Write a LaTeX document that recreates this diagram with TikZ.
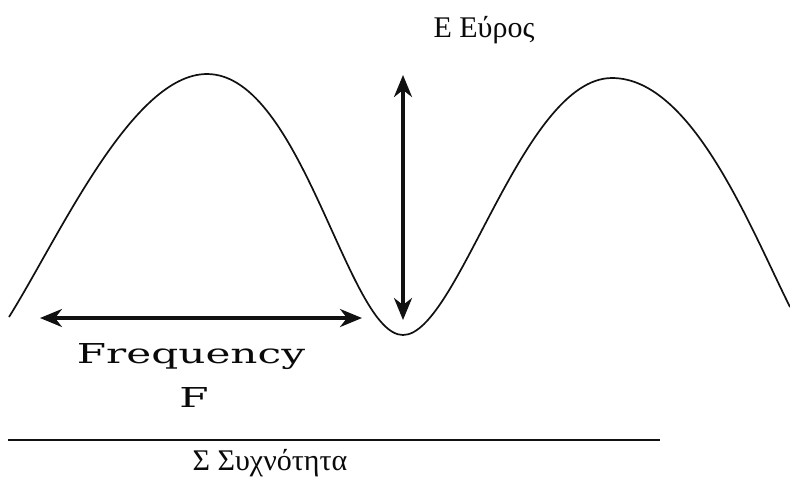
\documentclass[tikz,border=0pt]{standalone}
\usepackage{fontspec}
\setmainfont{Liberation Serif}
\newfontfamily\widefont{DejaVu Serif}
\usepackage{graphicx}
\usepackage{tikz}
\usetikzlibrary{arrows.meta}
\definecolor{WaveInk}{HTML}{111111}
\definecolor{WaveText}{HTML}{0A0A0A}

\begin{document}
\begin{tikzpicture}[x=0.5pt,y=-0.5pt,>={Stealth[length=11pt,width=9pt,inset=3.5pt]},
  greeklabel/.style={WaveText,anchor=base,inner sep=0pt,font=\fontsize{15pt}{18pt}\selectfont},
  freqlabel/.style={WaveText,anchor=base,inner sep=0pt,font=\widefont\fontsize{13.7pt}{16pt}\selectfont},
  dimarrow/.style={WaveInk,<->,line width=1.6pt}]
  \useasboundingbox (0,0) rectangle (790,479);
  % the wave
  \draw[WaveInk,line width=0.85pt]
    (9,317) .. controls (59,237) and (132,74) .. (207,74)
            .. controls (302,74) and (348,335) .. (403,335)
            .. controls (458,335) and (522,78) .. (612,78)
            .. controls (692,78) and (750,227) .. (790,307);
  % amplitude
  \coordinate (amptop) at (403,75);
  \coordinate (ampbot) at (403,320);
  \draw[dimarrow] (amptop) -- (ampbot);
  \node[greeklabel] (amp) at (484,37) {Ε Εύρος};
  % one period
  \coordinate (perl) at (40,318);
  \coordinate (perr) at (362,318);
  \draw[dimarrow] (perl) -- (perr);
  \node[freqlabel] (freq) at (191,363) {\scalebox{1.54}[1]{Frequency}};
  \node[freqlabel] (freqF) at (194,407) {\scalebox{1.54}[1]{F}};
  % base line
  \coordinate (basel) at (8,440);
  \coordinate (baser) at (660,440);
  \draw[WaveInk,line width=1pt] (basel) -- (baser);
  \node[greeklabel] (freqgr) at (270,470) {Σ Συχνότητα};
\end{tikzpicture}
\end{document}
